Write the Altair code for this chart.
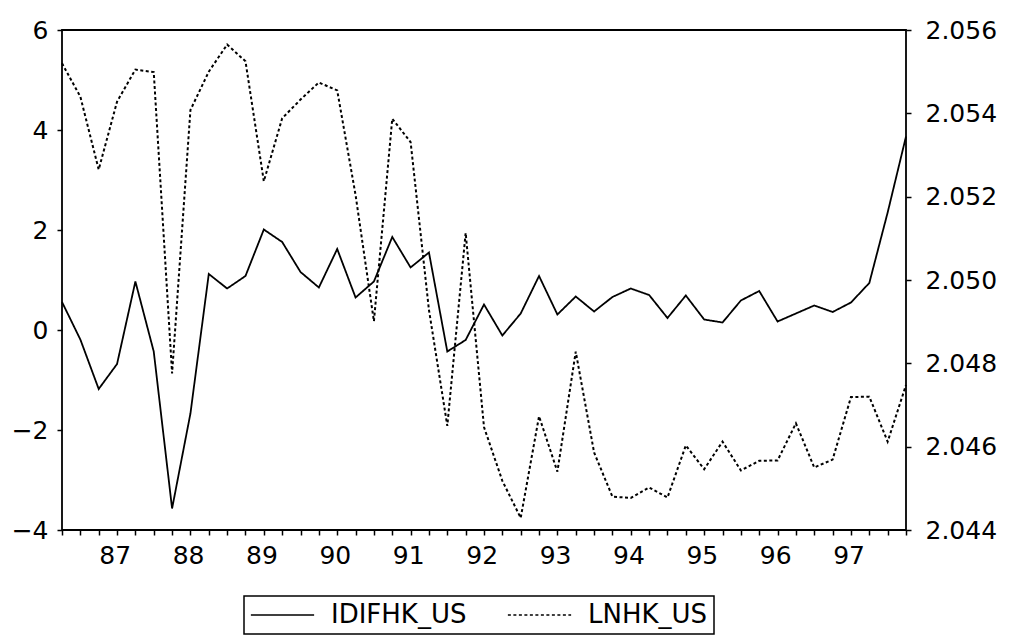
import altair as alt
import pandas as pd

# Quarterly observations, 1986Q3 .. 1998Q1
start_year = 1986.5
n_obs = 47
quarters = [start_year + 0.25 * i for i in range(n_obs)]

series_names = ["IDIFHK_US", "LNHK_US"]

idifhk_us = [0.56, -0.19, -1.18, -0.68, 0.97, -0.43, -3.57, -1.67, 1.12, 0.83,
             1.08, 2.01, 1.76, 1.16, 0.85, 1.62, 0.65, 0.97, 1.86, 1.25,
             1.55, -0.43, -0.20, 0.51, -0.11, 0.33, 1.08, 0.31, 0.67, 0.37,
             0.66, 0.83, 0.70, 0.24, 0.69, 0.21, 0.15, 0.59, 0.78, 0.17,
             0.33, 0.49, 0.36, 0.55, 0.94, 2.35, 3.87]

lnhk_us = [2.0552, 2.0544, 2.05265, 2.05428, 2.05505, 2.05499, 2.04776, 2.05408, 2.05500, 2.05565,
           2.05525, 2.05237, 2.05388, 2.05433, 2.05474, 2.05455, 2.05204, 2.04901, 2.05387, 2.05331,
           2.04928, 2.04650, 2.05113, 2.04647, 2.04518, 2.04429, 2.04673, 2.04540, 2.04828, 2.04586,
           2.04480, 2.04477, 2.04502, 2.04478, 2.04603, 2.04546, 2.04612, 2.04543, 2.04566, 2.04567,
           2.04656, 2.04550, 2.04569, 2.04719, 2.04720, 2.04612, 2.04748]

left_ticks = [-4, -2, 0, 2, 4, 6]
right_ticks = [2.044, 2.046, 2.048, 2.050, 2.052, 2.054, 2.056]
label_years = [1987, 1988, 1989, 1990, 1991, 1992, 1993, 1994, 1995, 1996, 1997]
year_labels = ["87", "88", "89", "90", "91", "92", "93", "94", "95", "96", "97"]

rows = []
for t, v in zip(quarters, idifhk_us):
    rows.append({"t": t, "series": series_names[0], "value": v})
for t, v in zip(quarters, lnhk_us):
    rows.append({"t": t, "series": series_names[1], "value": v})
df = pd.DataFrame(rows)

years_js = "[" + ",".join(str(y) for y in label_years) + "]"
labels_js = "[" + ",".join("'" + s + "'" for s in year_labels) + "]"
label_expr = (f"indexof({years_js}, datum.value) >= 0 ? "
              f"{labels_js}[indexof({years_js}, datum.value)] : ''")

FONT = "DejaVu Sans"

x_enc = alt.X(
    "t:Q",
    scale=alt.Scale(domain=[quarters[0], quarters[-1]], nice=False, zero=False),
    axis=alt.Axis(values=quarters, labelExpr=label_expr, title=None,
                  tickSize=5, labelOffset=16, labelPadding=8,
                  labelOverlap=False, labelFlush=False),
)

dash_enc = alt.StrokeDash(
    "series:N",
    scale=alt.Scale(domain=series_names, range=[[1, 0], [3, 2.5]]),
    legend=alt.Legend(
        title=None, orient="none", legendX=182, legendY=566,
        direction="horizontal", strokeColor="black", padding=6,
        labelFont=FONT, labelFontSize=26, labelColor="black",
        symbolType="stroke", symbolSize=4000, symbolStrokeWidth=1.7,
        symbolStrokeColor="black", labelOffset=16, columnPadding=40,
        clipHeight=26,
    ),
)

base = alt.Chart(df)

left = base.transform_filter(
    alt.datum.series == series_names[0]
).mark_line(strokeWidth=1.8).encode(
    x=x_enc,
    y=alt.Y("value:Q",
            scale=alt.Scale(domain=[left_ticks[0], left_ticks[-1]], nice=False, zero=False),
            axis=alt.Axis(orient="left", values=left_ticks, title=None,
                          tickSize=5, labelPadding=9)),
    strokeDash=dash_enc,
    color=alt.value("black"),
)

right = base.transform_filter(
    alt.datum.series == series_names[1]
).mark_line(strokeWidth=2.0).encode(
    x=x_enc,
    y=alt.Y("value:Q",
            scale=alt.Scale(domain=[right_ticks[0], right_ticks[-1]], nice=False, zero=False),
            axis=alt.Axis(orient="right", values=right_ticks, title=None, format=".3f",
                          tickSize=5, labelPadding=14)),
    strokeDash=dash_enc,
    color=alt.value("black"),
)

chart = alt.layer(left, right).resolve_scale(
    y="independent"
).properties(
    width=844, height=500,
    autosize=alt.AutoSizeParams(type="none"),
    padding={"left": 54, "top": 22, "right": 107, "bottom": 106},
    background="white",
).configure_view(
    stroke="black", strokeWidth=1.8
).configure_axis(
    labelFont=FONT, labelFontSize=25, labelColor="black",
    tickColor="black", tickWidth=1.5, domain=False, grid=False,
).configure_legend(
    strokeWidth=1.5
)

chart.save("out.html", embed_options={"renderer": "svg", "actions": False})
